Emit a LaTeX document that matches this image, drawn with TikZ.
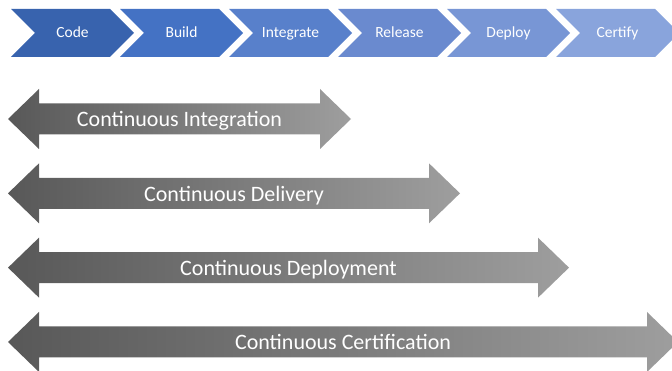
\documentclass[tikz,border=0pt]{standalone}
\usepackage{fontspec}
\setmainfont{Carlito}
\begin{document}
\begin{tikzpicture}[x=1pt,y=1pt,
  steplabel/.style={text=white,font=\fontsize{15.5}{18}\selectfont,inner sep=0pt,anchor=base},
  arrowlabel/.style={text=white,font=\fontsize{22}{26}\selectfont,inner sep=0pt,anchor=base}]
\useasboundingbox (0,0) rectangle (672,370);
\clip (0,0) rectangle (672,370);
\definecolor{c1}{RGB}{56,99,174}
\definecolor{c2}{RGB}{68,114,196}
\definecolor{c3}{RGB}{88,128,203}
\definecolor{c4}{RGB}{106,138,207}
\definecolor{c5}{RGB}{120,150,213}
\definecolor{c6}{RGB}{137,164,220}
\definecolor{gl}{RGB}{88,88,88}
\definecolor{gr}{RGB}{158,158,158}
% chevrons
\foreach \i/\t/\c in {0/Code/c1,1/Build/c2,2/Integrate/c3,3/Release/c4,4/Deploy/c5,5/Certify/c6}{
  \pgfmathsetmacro{\s}{11+109*\i}
  \fill[\c] (\s,361) -- (\s+99,361) -- (\s+123,337) -- (\s+99,313) -- (\s,313) -- (\s+24,337) -- cycle;
  \node[steplabel] (step\i) at (\s+61.5,332.5) {\t};
}
% double arrows
\foreach \j/\r/\t in {0/351/Continuous Integration,1/460/Continuous Delivery,2/569/Continuous Deployment,3/678/Continuous Certification}{
  \pgfmathsetmacro{\cy}{251-74.33*\j}
  \shade[left color=gl,right color=gr]
    (8,\cy) -- (39,\cy+30) -- (39,\cy+15.5) -- (\r-31,\cy+15.5) -- (\r-31,\cy+30) -- (\r,\cy)
    -- (\r-31,\cy-30) -- (\r-31,\cy-15.5) -- (39,\cy-15.5) -- (39,\cy-30) -- cycle;
  \node[arrowlabel] (arr\j) at ({(8+\r)/2},\cy-8) {\t};
}
\end{tikzpicture}
\end{document}
